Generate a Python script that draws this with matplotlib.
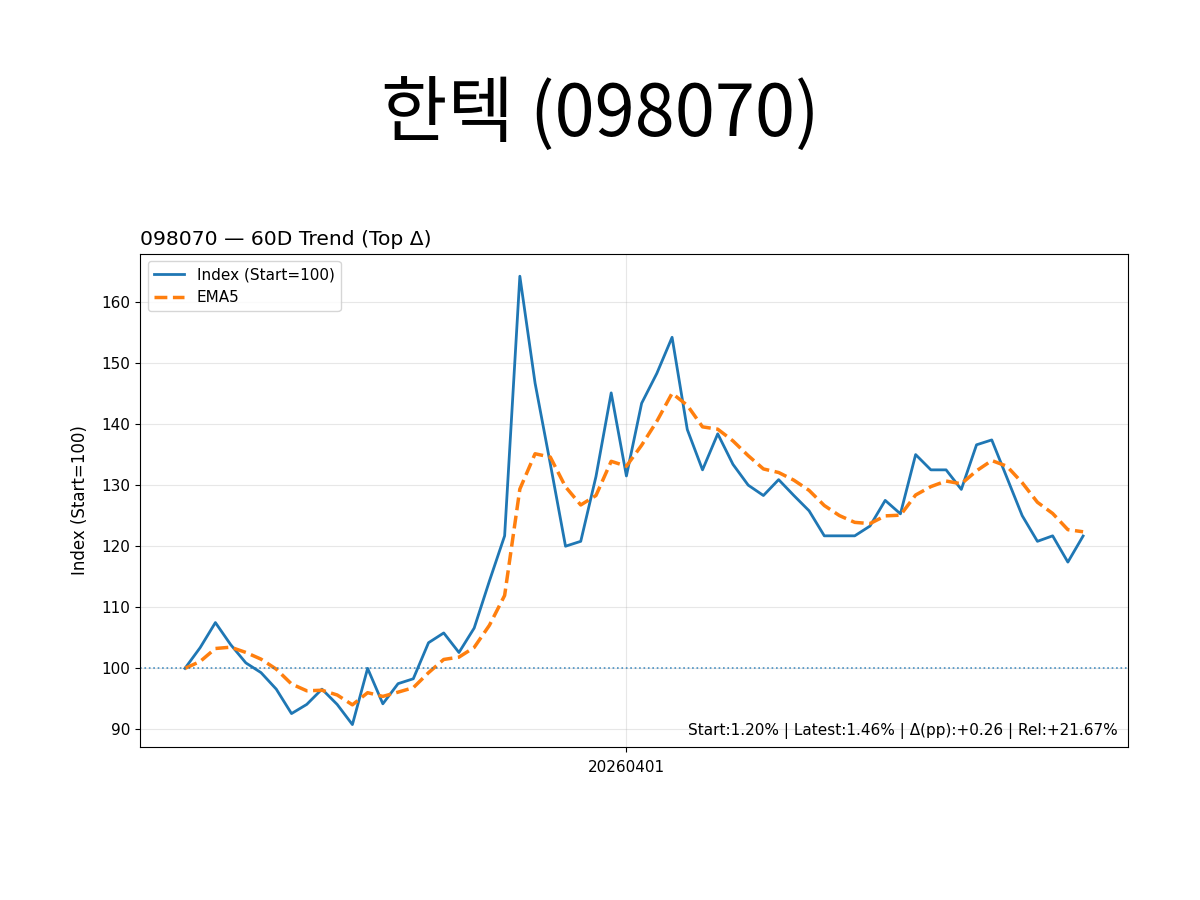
import matplotlib
matplotlib.use("Agg")
import matplotlib.pyplot as plt
import pandas as pd

# Normalised index values (start = 100), 60 trading days
index_vals = [
    100.0, 103.4, 107.5, 103.9, 100.9, 99.3, 96.6, 92.6, 94.1, 96.6,
    94.1, 90.8, 100.0, 94.2, 97.5, 98.3, 104.2, 105.8, 102.6, 106.6,
    114.3, 121.7, 164.2, 146.7, 133.5, 120.0, 120.8, 131.4, 145.1, 131.5,
    143.4, 148.3, 154.2, 139.1, 132.5, 138.4, 133.4, 130.0, 128.3, 130.9,
    128.3, 125.8, 121.7, 121.7, 121.7, 123.3, 127.5, 125.3, 135.0, 132.5,
    132.5, 129.3, 136.6, 137.4, 131.2, 125.0, 120.8, 121.7, 117.4, 121.67,
]
tick_pos = [29]
tick_labels = ["20260401"]

code = "098070"
name = "한텍"
stats_text = "Start:1.20% | Latest:1.46% | Δ(pp):+0.26 | Rel:+21.67%"

# EMA5 of the index, as in the original chart
s = pd.Series(index_vals)
ema5 = s.ewm(span=5, adjust=False).mean()
x = list(range(len(index_vals)))

plt.rcParams["font.size"] = 11

fig = plt.figure(figsize=(12, 9), dpi=100)
ax = fig.add_axes([0.1167, 0.17, 0.8233, 0.548])

ax.plot(x, index_vals, color="tab:blue", linewidth=2, label="Index (Start=100)")
ax.plot(x, ema5, color="tab:orange", linewidth=2.5, linestyle="--", label="EMA5")
ax.axhline(100, color="tab:blue", linestyle=":", linewidth=1.2, alpha=0.8)

ax.set_xticks(tick_pos)
ax.set_xticklabels(tick_labels)
ax.tick_params(axis="x", pad=6)
ax.grid(True, alpha=0.3)
ax.set_ylabel("Index (Start=100)", fontsize=12, labelpad=9)
ax.set_title(f"{code} — 60D Trend (Top Δ)", loc="left", fontsize=14.6)
ax.legend(loc="upper left")
ax.text(0.99, 0.017, stats_text, transform=ax.transAxes, ha="right", va="bottom")

fig.suptitle(f"{name} ({code})", fontsize=52, y=0.912,
             family=["Noto Sans CJK KR", "DejaVu Sans"])

fig.savefig("out.png", dpi=100)
